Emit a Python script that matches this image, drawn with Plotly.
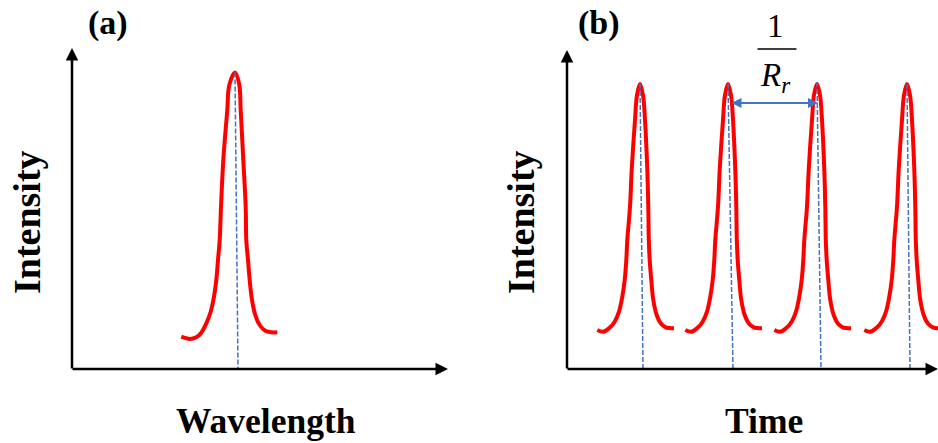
import plotly.graph_objects as go

W, H = 938, 443

# ---------------- data ----------------
# panel (a): spectrum, x = wavelength (arb. units), y = intensity (arb. units)
spec_wl = [109.3, 117.7, 124.3, 129.3, 134.3, 138.7, 142, 144.3, 146, 147.7, 149, 151.3, 155.3, 157.3, 163,
           167.3, 168.7, 171.3, 173.7, 174.3, 176, 177.7, 180, 183.3, 187.7, 193.3, 199.3, 205.3]
spec_int = [32.3, 30, 31.7, 36.3, 45.7, 57.3, 72.3, 89, 109, 129, 162, 209, 259, 284, 296.5,
            284, 259, 209, 162, 129, 109, 89, 69, 54, 44, 38.3, 36.7, 36.7]
spec_peak_top = [163, 296.5]
spec_peak_base = [166, 0]

# panel (b): pulse train, pulse profile relative to each pulse centre
pulse_dt = [-42.7, -36.7, -31, -25.3, -21, -17.7, -15.3, -13.7, -12.7, -10, -8.3, -5, -3, 0,
            3, 5, 7.3, 8.3, 8.8, 9.7, 11.3, 13.3, 16.7, 20.7, 25.7, 34]
pulse_int = [39, 37.3, 40.7, 47.3, 57.3, 72.3, 89, 109, 129, 162.3, 199, 249, 274, 285,
             274, 249, 199, 162, 129, 109, 89, 69, 54, 45.7, 41.7, 40.7]
pulse_centres = [73, 161, 250, 340]
pulse_tops = [285, 285, 287, 285]
pulse_bases = [76, 166, 254, 343]
period_arrow_t = [164, 251]
period_arrow_i = 266

# axis extents (arrow tips)
a_x_tip, a_y_tip = 376, 321
b_x_tip, b_y_tip = 371, 319

RED = "#FF0000"
BLUE = "#4472C4"
SERIF = "Liberation Serif"

fig = go.Figure()

# ---- panel (a)
fig.add_trace(go.Scatter(x=spec_wl, y=spec_int, mode="lines",
                         line=dict(color=RED, width=4, shape="spline", smoothing=1),
                         xaxis="x", yaxis="y", hoverinfo="skip"))
fig.add_trace(go.Scatter(x=[spec_peak_top[0], spec_peak_base[0]], y=[spec_peak_top[1], spec_peak_base[1]],
                         mode="lines", line=dict(color=BLUE, width=1.5, dash="5px,2px"),
                         xaxis="x", yaxis="y", hoverinfo="skip"))

# ---- panel (b)
for c in pulse_centres:
    fig.add_trace(go.Scatter(x=[c + d for d in pulse_dt], y=pulse_int, mode="lines",
                             line=dict(color=RED, width=4, shape="spline", smoothing=1),
                             xaxis="x2", yaxis="y2", hoverinfo="skip"))
for c, top, base in zip(pulse_centres, pulse_tops, pulse_bases):
    fig.add_trace(go.Scatter(x=[c, base], y=[top, 0], mode="lines",
                             line=dict(color=BLUE, width=1.5, dash="5px,2px"),
                             xaxis="x2", yaxis="y2", hoverinfo="skip"))

annotations = []


def arrow(xr, yr, x, y, ax, ay, color, width, both=False):
    annotations.append(dict(
        xref=xr, yref=yr, axref=xr, ayref=yr, x=x, y=y, ax=ax, ay=ay,
        text="", showarrow=True, arrowhead=2, startarrowhead=2,
        arrowside="end+start" if both else "end",
        arrowsize=1, startarrowsize=1, arrowwidth=width, arrowcolor=color,
        standoff=0, startstandoff=0, font=dict(size=1), borderpad=0))


# axes with arrows
arrow("x", "y", 0, a_y_tip, 0, 0, "black", 2.5)
arrow("x", "y", a_x_tip, 0, 0, 0, "black", 2.5)
arrow("x2", "y2", 0, b_y_tip, 0, 0, "black", 2.5)
arrow("x2", "y2", b_x_tip, 0, 0, 0, "black", 2.5)
# period double arrow
arrow("x2", "y2", period_arrow_t[1], period_arrow_i, period_arrow_t[0], period_arrow_i, BLUE, 2, both=True)


def txt(x, y, s, size=34, angle=0):
    annotations.append(dict(xref="paper", yref="paper", x=x / W, y=1 - y / H, text=s,
                            showarrow=False, textangle=angle, xanchor="center", yanchor="middle",
                            font=dict(family=SERIF, size=size, color="black")))


txt(108, 23, "<b>(a)</b>")
txt(599, 23, "<b>(b)</b>")
txt(27, 222, "<b>Intensity</b>", size=38, angle=-90)
txt(521, 222, "<b>Intensity</b>", size=38, angle=-90)
txt(266, 421, "<b>Wavelength</b>", size=35.5)
txt(764, 421, "<b>Time</b>", size=35.5)

# 1 / R_r label (centred between pulses 2 and 3)
mid = (pulse_centres[1] + pulse_centres[2]) / 2
annotations.append(dict(xref="x2", yref="y2", x=mid + 3, y=343, text="1", showarrow=False,
                        font=dict(family=SERIF, size=33, color="black")))
annotations.append(dict(xref="x2", yref="y2", x=mid + 3, y=292, text="<i>R<sub>r</sub></i>", showarrow=False,
                        font=dict(family=SERIF, size=33, color="black")))

shapes = [dict(type="line", xref="x2", yref="y2", x0=mid - 15, x1=mid + 24, y0=320, y1=320,
               line=dict(color="black", width=1.5))]

ax_common = dict(visible=False, showgrid=False, zeroline=False, fixedrange=True)
fig.update_layout(
    width=W, height=H, margin=dict(l=0, r=0, t=0, b=0),
    plot_bgcolor="white", paper_bgcolor="white", showlegend=False,
    xaxis=dict(domain=[0, 470 / W], range=[-72, 398], **ax_common),
    yaxis=dict(domain=[0, 1], range=[-74, 369], **ax_common),
    xaxis2=dict(domain=[470 / W, 1], range=[-97, 371], **ax_common),
    yaxis2=dict(domain=[0, 1], range=[-74, 369], anchor="x2", **ax_common),
    annotations=annotations, shapes=shapes,
)

fig.write_html("out.html")
